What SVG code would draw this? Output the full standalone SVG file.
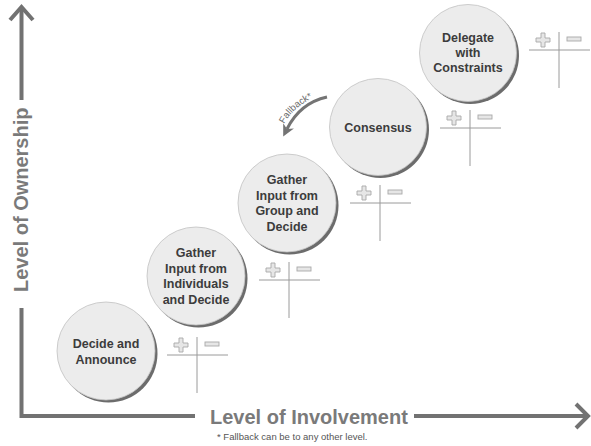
<svg xmlns="http://www.w3.org/2000/svg" width="591" height="446" viewBox="0 0 591 446">
  <defs>
    <style>
      .axis { fill: none; stroke: #727272; stroke-width: 4; stroke-linecap: butt; stroke-linejoin: miter; }
      .axis-label { font-family: "Liberation Sans", Arial, sans-serif; font-weight: 700; font-size: 20px; fill: #7a7a7a; }
      .note { font-family: "Liberation Sans", Arial, sans-serif; font-size: 9.5px; fill: #555; }
      .shadow { fill: #6c6c6c; }
      .disc { fill: #ececec; stroke: #c2c2c2; stroke-width: 0.8; }
      .label { font-family: "Liberation Sans", Arial, sans-serif; font-weight: 700; font-size: 12.5px; fill: #3c3c3c; text-anchor: middle; }
      .rule { stroke: #9a9a9a; stroke-width: 1; fill: none; }
      .sign { fill: #e6e6e6; stroke: #a8a8a8; stroke-width: 0.9; }
      .fallback { fill: none; stroke: #747474; stroke-width: 3; }
      .fallback-label { font-family: "Liberation Sans", Arial, sans-serif; font-size: 9.5px; fill: #6a6a6a; }
    </style>
    <!-- hollow plus and minus used in every pro/con table -->
    <path id="plus" class="sign" d="M-2,-7 H2 V-2 H7 V2 H2 V7 H-2 V2 H-7 V-2 H-2 Z"/>
    <rect id="minus" class="sign" x="-7" y="-2" width="14" height="4"/>
    <marker id="head" markerWidth="13" markerHeight="13" refX="4" refY="6.5" orient="auto" markerUnits="userSpaceOnUse">
      <path d="M0.5,0.5 L12.5,6.5 L0.5,12.5 L4,6.5 Z" fill="#747474"/>
    </marker>
  </defs>

  <rect width="591" height="446" fill="#ffffff"/>

  <!-- axes -->
  <path class="axis" d="M21.5,7 V100 M21.5,308 V416 H195 M414,416 H587"/>
  <polyline class="axis" points="10,20 21.5,7 33,20"/>
  <polyline class="axis" points="576,404 588,416 576,428"/>
  <text class="axis-label" transform="translate(28,292) rotate(-90)">Level of Ownership</text>
  <text class="axis-label" x="210" y="424">Level of Involvement</text>
  <text class="note" x="217" y="440">* Fallback can be to any other level.</text>

  <!-- connectors -->
  <g id="connectors">
    <path class="fallback" d="M327,97 Q300,103 287,129" marker-end="url(#head)"/>
    <path id="fallback-text-path" d="M284,124 Q296,102 328,92" fill="none"/>
    <text class="fallback-label"><textPath href="#fallback-text-path">Fallback*</textPath></text>
  </g>

  <!-- level 1 -->
  <g id="decide-and-announce">
    <circle class="shadow" cx="108.5" cy="353.5" r="49"/>
    <circle class="disc" cx="106" cy="351" r="49"/>
    <text class="label" x="106" y="348">Decide and</text>
    <text class="label" x="106" y="364">Announce</text>
    <g transform="translate(197,355)">
      <path class="rule" d="M0,-18 V38 M-30,0 H31"/>
      <use href="#plus" x="-16" y="-10"/>
      <use href="#minus" x="15" y="-11"/>
    </g>
  </g>

  <!-- level 2 -->
  <g id="gather-individuals">
    <circle class="shadow" cx="198.5" cy="278.5" r="49"/>
    <circle class="disc" cx="196" cy="276" r="49"/>
    <text class="label" x="196" y="257">Gather</text>
    <text class="label" x="196" y="272.5">Input from</text>
    <text class="label" x="196" y="288">Individuals</text>
    <text class="label" x="196" y="303.5">and Decide</text>
    <g transform="translate(289,280)">
      <path class="rule" d="M0,-18 V38 M-30,0 H31"/>
      <use href="#plus" x="-16" y="-10"/>
      <use href="#minus" x="15" y="-11"/>
    </g>
  </g>

  <!-- level 3 -->
  <g id="gather-group">
    <circle class="shadow" cx="289.5" cy="205.5" r="49"/>
    <circle class="disc" cx="287" cy="203" r="49"/>
    <text class="label" x="287" y="184">Gather</text>
    <text class="label" x="287" y="199.5">Input from</text>
    <text class="label" x="287" y="215">Group and</text>
    <text class="label" x="287" y="230.5">Decide</text>
    <g transform="translate(380,203)">
      <path class="rule" d="M0,-18 V38 M-30,0 H31"/>
      <use href="#plus" x="-16" y="-10"/>
      <use href="#minus" x="15" y="-11"/>
    </g>
  </g>

  <!-- level 4 -->
  <g id="consensus">
    <circle class="shadow" cx="380.5" cy="129.5" r="48.5"/>
    <circle class="disc" cx="378" cy="127" r="48.5"/>
    <text class="label" x="378" y="131.5">Consensus</text>
    <g transform="translate(470,128)">
      <path class="rule" d="M0,-18 V38 M-30,0 H31"/>
      <use href="#plus" x="-16" y="-10"/>
      <use href="#minus" x="15" y="-11"/>
    </g>
  </g>

  <!-- level 5 -->
  <g id="delegate-with-constraints">
    <circle class="shadow" cx="470.5" cy="55.5" r="48.5"/>
    <circle class="disc" cx="468" cy="53" r="48.5"/>
    <text class="label" x="468" y="42">Delegate</text>
    <text class="label" x="468" y="57">with</text>
    <text class="label" x="468" y="72">Constraints</text>
    <g transform="translate(559,50)">
      <path class="rule" d="M0,-18 V38 M-30,0 H31"/>
      <use href="#plus" x="-16" y="-10"/>
      <use href="#minus" x="15" y="-11"/>
    </g>
  </g>
</svg>
